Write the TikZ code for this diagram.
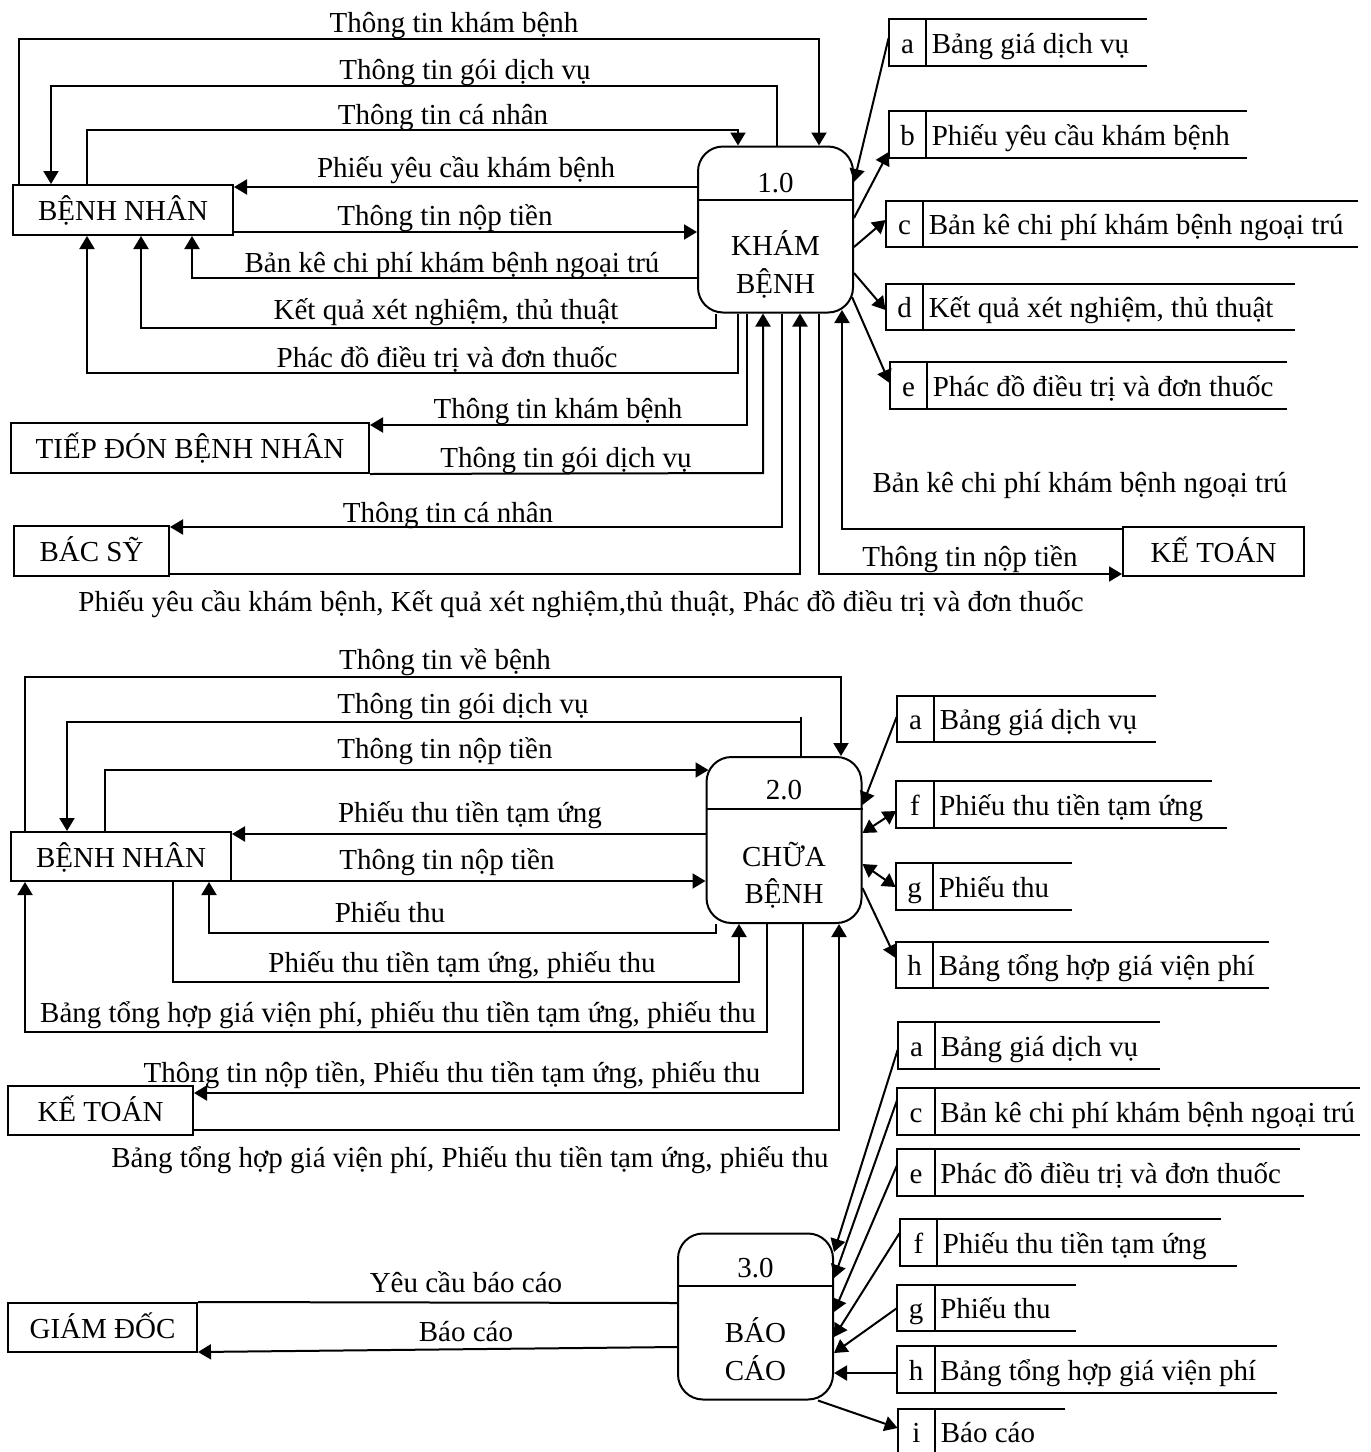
\documentclass[tikz,border=0pt]{standalone}
\usepackage{fontspec}
\setmainfont{Liberation Serif}
\usetikzlibrary{arrows.meta,positioning}
\tikzset{
  ent/.style={draw, line width=1pt, inner sep=0pt, text height=1.08em, text depth=0pt},
  proc/.style={draw, line width=1pt, rounded corners=12.5pt, minimum width=77.5pt, minimum height=83pt, inner sep=0pt},
  ptext/.style={anchor=base, inner sep=0pt},
  lbl/.style={anchor=base, inner sep=0pt},
  cell/.style={minimum width=18.5pt, minimum height=23pt, inner sep=0pt, text height=1.08em, text depth=0pt},
  celltext/.style={anchor=west, inner xsep=2.5pt, inner ysep=0pt, text height=1.08em, text depth=0pt},
  wire/.style={line width=1pt},
  flow/.style={wire, -{Triangle[length=6.5pt,width=7.5pt]}},
  dflow/.style={wire, {Triangle[length=6.5pt,width=7.5pt]}-{Triangle[length=6.5pt,width=7.5pt]}}
}
% data store: name, x, y, letter, text, top end, bottom end
\newcommand{\dstore}[7]{%
  \node[cell] (#1) at (#2,#3) {#4};
  \node[celltext] (#1t) at (#1.east) {#5};
  \draw[wire] (#6,0 |- #1.north) -- (#1.north west) -- (#1.south west) -- (#7,0 |- #1.south);
  \draw[wire] (#1.north east) -- (#1.south east);
}

\begin{document}
\begin{tikzpicture}[x=0.5pt, y=-0.5pt, font=\fontsize{14.5}{17}\selectfont]
\useasboundingbox (0,0) rectangle (1371,1452);

% 1.0 kham benh
\node[ent, minimum width=110pt, minimum height=25pt] (bn1) at (123,210) {BỆNH NHÂN};
\node[ent, minimum width=179pt, minimum height=25pt] (td) at (190,448) {TIẾP ĐÓN BỆNH NHÂN};
\node[ent, minimum width=77.5pt, minimum height=25pt] (bs) at (91.5,551) {BÁC SỸ};
\node[ent, minimum width=90.5pt, minimum height=24.5pt] (kt1) at (1213.5,551.5) {KẾ TOÁN};
\node[proc] (p1) at (775.5,229.5) {};
\draw[wire] (p1.west |- 0,200) -- (p1.east |- 0,200);
\node[ptext] (p1n) at (775.5,192) {1.0};
\node[ptext] (p1a) at (775.5,255) {KHÁM};
\node[ptext] (p1b) at (775.5,293) {BỆNH};

\dstore{a1}{907.5}{42.5}{a}{Bảng giá dịch vụ}{1147}{1147}
\dstore{b1}{907.5}{134.5}{b}{Phiếu yêu cầu khám bệnh}{1247}{1247}
\dstore{c1}{904.5}{224}{c}{Bản kê chi phí khám bệnh ngoại trú}{1358}{1358}
\dstore{d1}{904.5}{307}{d}{Kết quả xét nghiệm, thủ thuật}{1295}{1295}
\dstore{e1}{908.5}{385.5}{e}{Phác đồ điều trị và đơn thuốc}{1287}{1287}

\draw[flow] (19,0 |- bn1.north) -- (19,39) -- (819,39) -- (819,0 |- p1.north);
\draw[flow] (777,0 |- p1.north) -- (777,86) -- (51,86) -- (51,0 |- bn1.north);
\draw[flow] (87,0 |- bn1.north) -- (87,130) -- (738,130) -- (738,0 |- p1.north);
\draw[flow] (p1.west |- 0,187) -- (bn1.east |- 0,187);
\draw[flow] (bn1.east |- 0,232) -- (p1.west |- 0,232);
\draw[flow] (p1.west |- 0,278) -- (192,278) -- (192,0 |- bn1.south);
\draw[flow] (716,0 |- p1.south) -- (716,328) -- (141,328) -- (141,0 |- bn1.south);
\draw[flow] (738,0 |- p1.south) -- (738,373) -- (87,373) -- (87,0 |- bn1.south);
\draw[flow] (747,0 |- p1.south) -- (747,425) -- (td.east |- 0,425);
\draw[flow] (td.south east) -- (763,473) -- (763,0 |- p1.south);
\draw[flow] (782,0 |- p1.south) -- (782,527) -- (bs.east |- 0,527);
\draw[flow] (bs.east |- 0,574) -- (800,574) -- (800,0 |- p1.south);
\draw[flow] (819,0 |- p1.south) -- (819,574) -- (kt1.west |- 0,574);
\draw[flow] (kt1.west |- 0,529) -- (842,529) -- (842,310);

\draw[flow] (a1.west |- 0,38) -- (p1.east |- 0,182);
\draw[flow] (p1.east |- 0,218) -- (b1.west |- 0,152);
\draw[flow] (p1.east |- 0,247) -- (c1.west |- 0,220);
\draw[flow] (p1.east |- 0,273) -- (d1.west |- 0,310);
\draw[flow] ([xshift=-1pt]p1.east |- 0,297) -- (e1.west |- 0,383);

\node[lbl] (l1) at (454,32) {Thông tin khám bệnh};
\node[lbl] (l2) at (465,79) {Thông tin gói dịch vụ};
\node[lbl] (l3) at (443,124) {Thông tin cá nhân};
\node[lbl] (l4) at (466,177) {Phiếu yêu cầu khám bệnh};
\node[lbl] (l5) at (445,225) {Thông tin nộp tiền};
\node[lbl] (l6) at (452,272) {Bản kê chi phí khám bệnh ngoại trú};
\node[lbl] (l7) at (446,319) {Kết quả xét nghiệm, thủ thuật};
\node[lbl] (l8) at (447,367) {Phác đồ điều trị và đơn thuốc};
\node[lbl] (l9) at (558,418) {Thông tin khám bệnh};
\node[lbl] (l10) at (566,467) {Thông tin gói dịch vụ};
\node[lbl] (l11) at (448,522) {Thông tin cá nhân};
\node[lbl] (l12) at (581,611) {Phiếu yêu cầu khám bệnh, Kết quả xét nghiệm,thủ thuật, Phác đồ điều trị và đơn thuốc};
\node[lbl] (l13) at (1080,492) {Bản kê chi phí khám bệnh ngoại trú};
\node[lbl] (l14) at (970,566) {Thông tin nộp tiền};

% 2.0 chua benh
\node[ent, minimum width=110pt, minimum height=24.5pt] (bn2) at (121,856.5) {BỆNH NHÂN};
\node[ent, minimum width=92.5pt, minimum height=24.5pt] (kt2) at (100.5,1110.5) {KẾ TOÁN};
\node[proc] (p2) at (784,840) {};
\draw[wire] (p2.west |- 0,809) -- (p2.east |- 0,809);
\node[ptext] (p2n) at (784,799) {2.0};
\node[ptext] (p2a) at (784,866) {CHỮA};
\node[ptext] (p2b) at (784,903) {BỆNH};

\dstore{a2}{915.5}{719}{a}{Bảng giá dịch vụ}{1156}{1156}
\dstore{f2}{915}{804.5}{f}{Phiếu thu tiền tạm ứng}{1212}{1227}
\dstore{g2}{914.5}{886.5}{g}{Phiếu thu}{1072}{1072}
\dstore{h2}{914.5}{965}{h}{Bảng tổng hợp giá viện phí}{1269}{1269}

\draw[flow] (25,0 |- bn2.north) -- (25,677) -- (841,677) -- (841,0 |- p2.north);
\draw[flow] (801,0 |- p2.north) -- (801,717) (801,722) -- (67,722) -- (67,0 |- bn2.north);
\draw[flow] (105,0 |- bn2.north) -- (105,770) -- ([xshift=1.5pt]p2.west |- 0,770);
\draw[flow] (p2.west |- 0,834) -- (bn2.east |- 0,834);
\draw[flow] (bn2.east |- 0,881) -- (p2.west |- 0,881);
\draw[flow] (716,0 |- p2.south) -- (716,933) -- (209,933) -- (209,0 |- bn2.south);
\draw[flow] (173,0 |- bn2.south) -- (173,982) -- (739,982) -- (739,0 |- p2.south);
\draw[flow] (767,0 |- p2.south) -- (767,1032) -- (25,1032) -- (25,0 |- bn2.south);
\draw[flow] (803,0 |- p2.south) -- (803,1093) -- (kt2.east |- 0,1093);
\draw[flow] (kt2.east |- 0,1130) -- (839,1130) -- (839,0 |- p2.south);

\draw[flow] (a2.west |- 0,717) -- (p2.east |- 0,805);
\draw[dflow] (p2.east |- 0,833) -- (f2.west |- 0,811);
\draw[dflow] (p2.east |- 0,864) -- (g2.west |- 0,887);
\draw[flow] (p2.east |- 0,888) -- (h2.west |- 0,958);

\node[lbl] (m1) at (445,669) {Thông tin về bệnh};
\node[lbl] (m2) at (463,713) {Thông tin gói dịch vụ};
\node[lbl] (m3) at (445,758) {Thông tin nộp tiền};
\node[lbl] (m4) at (470,822) {Phiếu thu tiền tạm ứng};
\node[lbl] (m5) at (447,869) {Thông tin nộp tiền};
\node[lbl] (m6) at (390,922) {Phiếu thu};
\node[lbl] (m7) at (462,972) {Phiếu thu tiền tạm ứng, phiếu thu};
\node[lbl] (m8) at (398,1022) {Bảng tổng hợp giá viện phí, phiếu thu tiền tạm ứng, phiếu thu};
\node[lbl] (m9) at (452,1082) {Thông tin nộp tiền, Phiếu thu tiền tạm ứng, phiếu thu};
\node[lbl] (m10) at (470,1167) {Bảng tổng hợp giá viện phí, Phiếu thu tiền tạm ứng, phiếu thu};

% 3.0 bao cao
\node[ent, minimum width=94.5pt, minimum height=24.5pt] (gd) at (102.5,1327.5) {GIÁM ĐỐC};
\node[proc] (p3) at (755.5,1316.5) {};
\draw[wire] (p3.west |- 0,1286) -- (p3.east |- 0,1286);
\node[ptext] (p3n) at (755.5,1277) {3.0};
\node[ptext] (p3a) at (755.5,1342) {BÁO};
\node[ptext] (p3b) at (755.5,1380) {CÁO};

\dstore{a3}{916.5}{1045.5}{a}{Bảng giá dịch vụ}{1160}{1160}
\dstore{c3}{916}{1111.5}{c}{Bản kê chi phí khám bệnh ngoại trú}{1360}{1360}
\dstore{e3}{916}{1172.5}{e}{Phác đồ điều trị và đơn thuốc}{1300}{1304}
\dstore{f3}{918.5}{1242.5}{f}{Phiếu thu tiền tạm ứng}{1221}{1237}
\dstore{g3}{916}{1308}{g}{Phiếu thu}{1076}{1076}
\dstore{h3}{916}{1369.5}{h}{Bảng tổng hợp giá viện phí}{1277}{1277}
\dstore{i3}{916.5}{1432}{i}{Báo cáo}{1065}{1065}

\draw[wire] (gd.north east) -- (p3.west |- 0,1303);
\draw[flow] (p3.west |- 0,1347) -- (gd.east |- 0,1352);
\draw[flow] (a3.west |- 0,1050) -- (p3.east |- 0,1252);
\draw[flow] (c3.west |- 0,1100) -- (p3.east |- 0,1278);
\draw[flow] (e3.west |- 0,1165) -- (p3.east |- 0,1312);
\draw[flow] (f3.west |- 0,1233) -- (p3.east |- 0,1337);
\draw[flow] (g3.west |- 0,1308) -- (p3.east |- 0,1353);
\draw[flow] (h3.west |- 0,1373) -- (p3.east |- 0,1373);
\draw[flow] (818,0 |- p3.south) -- (i3.west |- 0,1428);

\node[lbl] (n1) at (466,1292) {Yêu cầu báo cáo};
\node[lbl] (n2) at (466,1341) {Báo cáo};
\end{tikzpicture}
\end{document}
